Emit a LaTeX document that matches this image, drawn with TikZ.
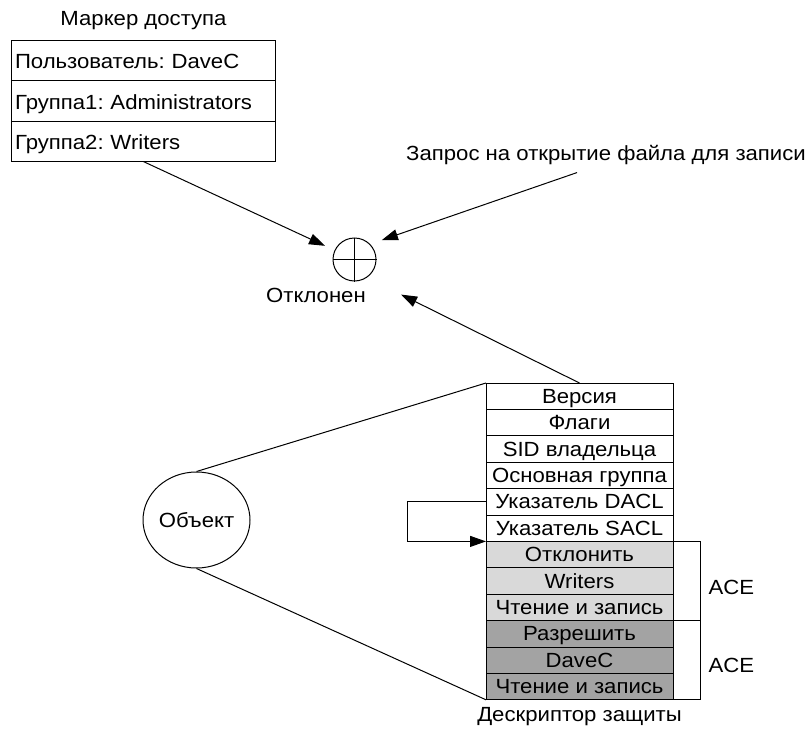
\documentclass[tikz,border=0pt]{standalone}
\usepackage{fontspec}
\setmainfont{Liberation Sans}[FakeStretch=1.08]
\usepackage{tikz}
\usetikzlibrary{arrows.meta,positioning,shapes.geometric}
\definecolor{acelight}{gray}{0.85}
\definecolor{acedark}{gray}{0.64}
\frenchspacing
\tikzset{
    %Define standard arrow tip
    >={Triangle[length=16pt,width=11pt]},
    %Define style for the token rows
    tokenrow/.style={
           rectangle,
           draw=black, line width=1pt,
           minimum width=264pt,
           minimum height=40.3pt,
           text width=257pt,
           text height=18pt, text depth=2pt,
           inner xsep=3.5pt, inner ysep=0pt,
           outer sep=0pt,
           align=left},
    %Define style for the descriptor rows
    sdrow/.style={
           rectangle,
           draw=black, line width=1pt,
           minimum width=187pt,
           minimum height=26.4pt,
           text height=16pt, text depth=2pt,
           inner sep=0pt, outer sep=0pt,
           text centered},
    denyrow/.style={sdrow, fill=acelight},
    allowrow/.style={sdrow, fill=acedark},
    objekt/.style={
           ellipse,
           draw=black, line width=1pt,
           minimum width=107pt,
           minimum height=96pt,
           inner sep=0pt},
    check/.style={
           circle,
           draw=black, line width=1pt,
           minimum size=43pt,
           inner sep=0pt},
    caption/.style={inner sep=0pt}
}
\begin{document}
\begin{tikzpicture}[x=1pt,y=-1pt,line width=1pt,
  font=\fontsize{20.5}{24}\selectfont]
\useasboundingbox (0,0) rectangle (810,733);
% access token
\node[tokenrow, anchor=north](t1) at (143.5,40.7){Пользователь: DaveC};
\node[tokenrow, below=0pt of t1](t2){Группа1: Administrators};
\node[tokenrow, below=0pt of t2](t3){Группа2: Writers};
\node[caption, above=10pt of t1](tt){Маркер доступа};
% access check
\node[check](x) at (354.5,259.5){};
\draw (x.north) -- (x.south) (x.west) -- (x.east);
\node[caption](xl) at (316,295){Отклонен};
\node[caption](rq) at (606,155){Запрос на открытие файла для записи};
% security descriptor
\node[sdrow, anchor=north](s1) at (579.5,383){Версия};
\node[sdrow, below=0pt of s1](s2){Флаги};
\node[sdrow, below=0pt of s2](s3){SID владельца};
\node[sdrow, below=0pt of s3](s4){Основная группа};
\node[sdrow, below=0pt of s4](s5){Указатель DACL};
\node[sdrow, below=0pt of s5](s6){Указатель SACL};
\node[denyrow, below=0pt of s6](s7){Отклонить};
\node[denyrow, below=0pt of s7](s8){Writers};
\node[denyrow, below=0pt of s8](s9){Чтение и запись};
\node[allowrow, below=0pt of s9](s10){Разрешить};
\node[allowrow, below=0pt of s10](s11){DaveC};
\node[allowrow, below=0pt of s11](s12){Чтение и запись};
\node[caption, below=7pt of s12](sd){Дескриптор защиты};
\node[caption, right=35pt of s8, yshift=-6pt](a1){ACE};
\node[caption, right=35pt of s11, yshift=-5pt](a2){ACE};
\node[objekt](obj) at (196.5,520){Объект};
% connectors
\draw[->, shorten >=10.5pt] (t3.south) -- (x);
\draw[->, shorten <=1pt, shorten >=29pt] ([xshift=-28pt,yshift=-7pt]rq.south) -- ([yshift=10pt]x.center);
\draw[->, shorten >=52pt] (s1.north) -- ([yshift=-12pt]x.center);
\draw (obj.north) -- (s1.north west);
\draw (obj.south) -- (s12.south west);
\draw[->] (s5.west) -- ++(-79,0) |- (s6.south west);
\draw (s7.north east) -- ++(27,0) |- (s12.south east);
\draw (s9.south east) -- ++(27,0);
\end{tikzpicture}
\end{document}
